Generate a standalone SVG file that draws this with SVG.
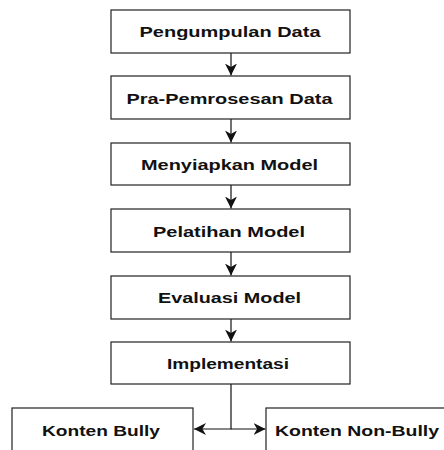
<svg xmlns="http://www.w3.org/2000/svg" width="444" height="450" viewBox="0 0 444 450">
<style>
.box{fill:#fff;stroke:#222;stroke-width:1.2}
.lbl{font-family:"Liberation Sans",Arial,sans-serif;font-size:14px;font-weight:bold;fill:#111;text-anchor:middle}
.con{fill:none;stroke:#111;stroke-width:1.2}
</style>
<defs>
<marker id="ah" markerUnits="userSpaceOnUse" markerWidth="12" markerHeight="12" viewBox="0 0 10 10" refX="10" refY="5" orient="auto">
<path d="M0,0 L10,5 L0,10 L3,5 z" fill="#111"/>
</marker>
</defs>
<rect width="444" height="450" fill="#fff"/>
<g id="connectors">
<line class="con" x1="231" y1="53" x2="231" y2="75.5" marker-end="url(#ah)"/>
<line class="con" x1="231" y1="119" x2="231" y2="142.5" marker-end="url(#ah)"/>
<line class="con" x1="231" y1="185" x2="231" y2="208.5" marker-end="url(#ah)"/>
<line class="con" x1="231" y1="252" x2="231" y2="275.5" marker-end="url(#ah)"/>
<line class="con" x1="231" y1="319" x2="231" y2="341.5" marker-end="url(#ah)"/>
<polyline class="con" points="231,384 231,429 194,429" marker-end="url(#ah)"/>
<polyline class="con" points="231,429 265.5,429" marker-end="url(#ah)"/>
</g>
<g id="n1"><rect class="box" x="111" y="10" width="239" height="43"/><text class="lbl" x="230" y="37" textLength="181" lengthAdjust="spacingAndGlyphs">Pengumpulan Data</text></g>
<g id="n2"><rect class="box" x="111" y="76" width="239" height="43"/><text class="lbl" x="229.5" y="103.5" textLength="206" lengthAdjust="spacingAndGlyphs">Pra-Pemrosesan Data</text></g>
<g id="n3"><rect class="box" x="111" y="143" width="239" height="42"/><text class="lbl" x="229.5" y="170" textLength="177" lengthAdjust="spacingAndGlyphs">Menyiapkan Model</text></g>
<g id="n4"><rect class="box" x="111" y="209" width="239" height="43"/><text class="lbl" x="229" y="236.5" textLength="152" lengthAdjust="spacingAndGlyphs">Pelatihan Model</text></g>
<g id="n5"><rect class="box" x="111" y="276" width="239" height="43"/><text class="lbl" x="229.5" y="303" textLength="143" lengthAdjust="spacingAndGlyphs">Evaluasi Model</text></g>
<g id="n6"><rect class="box" x="111" y="342" width="239" height="42"/><text class="lbl" x="228" y="369" textLength="122" lengthAdjust="spacingAndGlyphs">Implementasi</text></g>
<g id="n7"><rect class="box" x="12" y="408" width="181" height="60"/><text class="lbl" x="101" y="436" textLength="118" lengthAdjust="spacingAndGlyphs">Konten Bully</text></g>
<g id="n8"><rect class="box" x="266" y="408" width="200" height="60"/><text class="lbl" x="357" y="436" textLength="164" lengthAdjust="spacingAndGlyphs">Konten Non-Bully</text></g>
</svg>
